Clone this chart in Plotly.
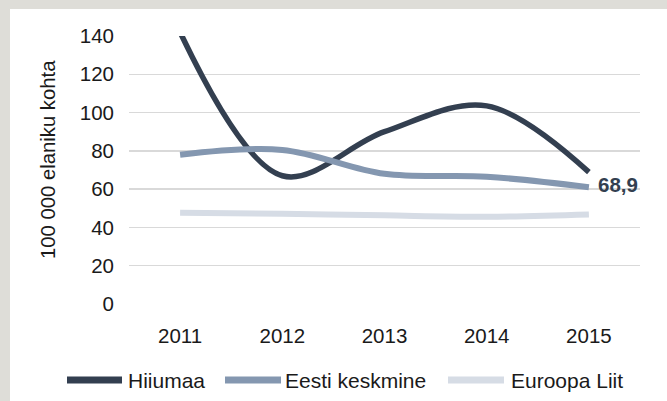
import plotly.graph_objects as go

years = ["2011", "2012", "2013", "2014", "2015"]
series_names = ["Hiiumaa", "Eesti keskmine", "Euroopa Liit"]
hiiumaa = [142, 67, 90, 103.5, 68.9]
eesti = [78, 80.5, 68, 66.5, 61]
euroopa = [47.7, 47.2, 46.3, 45.6, 46.8]
y_ticks = [0, 20, 40, 60, 80, 100, 120, 140]
y_title = "100 000 elaniku kohta"
last_label = "68,9"

colors = ["#333F50", "#8497B0", "#D6DCE5"]
widths = [5.5, 6, 6]
FONT = "Liberation Sans, Arial, sans-serif"
TXT = "#1a1a1a"

W, H = 667, 401
L, R, T, B = 129, 27, 36, 97
pw, ph = W - L - R, H - T - B

def px_x(px):
    return (px - L) / pw

def px_y(py):
    return (H - B - py) / ph

fig = go.Figure()
for name, vals, c, w in zip(series_names, [hiiumaa, eesti, euroopa], colors, widths):
    fig.add_trace(go.Scatter(
        x=years, y=vals, name=name, mode="lines",
        line=dict(color=c, width=w, shape="spline", smoothing=1.0),
        showlegend=False, hoverinfo="skip",
    ))

# data label for last Hiiumaa value
fig.add_annotation(
    x=len(years) - 1, y=hiiumaa[-1], xref="x", yref="y",
    text="<b>%s</b>" % last_label, showarrow=False,
    xanchor="left", yanchor="middle", xshift=7, yshift=-12,
    font=dict(family=FONT, size=20.5, color=colors[0]),
)

# y axis title
fig.add_annotation(
    x=px_x(48), y=px_y(160), xref="paper", yref="paper",
    text=y_title, textangle=-90, showarrow=False,
    xanchor="center", yanchor="middle",
    font=dict(family=FONT, size=20.3, color=TXT),
)

shapes = [dict(
    type="rect", xref="paper", yref="paper",
    x0=px_x(10), x1=px_x(W + 5), y0=px_y(H + 5), y1=px_y(9),
    fillcolor="white", line=dict(width=0), layer="below",
)]

# manual legend
leg_y = px_y(380)
leg_items = [(67, 122, 126), (225, 281, 283), (448, 504, 509)]
for (x0, x1, tx), name, c in zip(leg_items, series_names, colors):
    shapes.append(dict(
        type="line", xref="paper", yref="paper",
        x0=px_x(x0), x1=px_x(x1), y0=leg_y, y1=leg_y,
        line=dict(color=c, width=7),
    ))
    fig.add_annotation(
        x=px_x(tx), y=leg_y, xref="paper", yref="paper",
        text=name, showarrow=False, xanchor="left", yanchor="middle",
        font=dict(family=FONT, size=21, color=TXT),
    )

fig.update_layout(
    width=W, height=H,
    margin=dict(l=L, r=R, t=T, b=B, pad=0),
    paper_bgcolor="#DEDDD8",
    plot_bgcolor="white",
    shapes=shapes,
    showlegend=False,
    hovermode=False,
    font=dict(family=FONT, size=20, color=TXT),
)
fig.update_xaxes(
    type="category", range=[-0.5, 4.5], showgrid=False, zeroline=False,
    showline=False, ticks="", ticklabelstandoff=17,
    tickfont=dict(family=FONT, size=20.5, color=TXT),
)
fig.update_yaxes(
    range=[0, 140], tickvals=y_ticks, showgrid=True, gridcolor="#D9D9D9",
    gridwidth=1.3, zeroline=False, showline=False, ticks="",
    ticklabelstandoff=14,
    tickfont=dict(family=FONT, size=20.5, color=TXT),
)

fig.write_html(
    "out.html",
    config={"displayModeBar": False, "staticPlot": True},
    post_script="document.body.style.margin='0';document.body.style.overflow='hidden';",
)
